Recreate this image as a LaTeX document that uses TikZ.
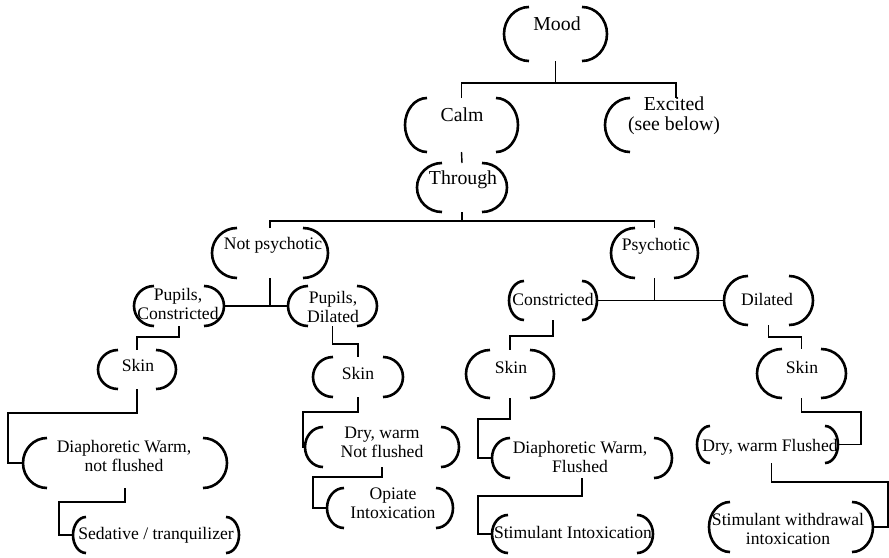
\documentclass[tikz,border=0pt]{standalone}
\usepackage{fontspec}
\setmainfont{Liberation Serif}
\usetikzlibrary{calc}
\tikzset{
  bx/.style 2 args={shape=rectangle, draw=none, inner sep=0pt, outer sep=0pt,
    minimum width=#1pt, minimum height=#2pt},
  bk/.style={line width=2.6pt, line cap=butt},
  cn/.style={line width=1.4pt},
  tx/.style={font=\fontsize{17.6}{19}\selectfont, align=center, inner sep=0pt},
  txb/.style={font=\fontsize{19.8}{19.5}\selectfont, align=center, inner sep=0pt},
}
\newcommand\brk[2]{\draw[bk] let \p1=(#1.north west), \p2=(#1.south east), \n1={(\y1-\y2)/2} in
  (\x1+#2pt,\y1) arc[start angle=90,end angle=270,x radius=#2pt,y radius=\n1]
  (\x2-#2pt,\y1) arc[start angle=90,end angle=-90,x radius=#2pt,y radius=\n1];}
\newcommand\brkL[2]{\draw[bk] let \p1=(#1.north west), \p2=(#1.south east), \n1={(\y1-\y2)/2} in
  (\x1+#2pt,\y1) arc[start angle=90,end angle=270,x radius=#2pt,y radius=\n1];}
\begin{document}
\begin{tikzpicture}[x=1pt,y=1pt]
\useasboundingbox (0,0) rectangle (889,-557);
% nodes
\node[bx={103}{54}, label={[txb, shift={(1.5,10)}]center:{Mood}}] (mood) at (555.5,-34) {};
\node[bx={113}{54}, label={[txb, shift={(0.5,10)}]center:{Calm}}] (calm) at (461.5,-125) {};
\node[bx={142}{54}, label={[txb, shift={(-2,9.5)}]center:{Excited\\(see below)}}] (excited) at (676,-125) {};
\node[bx={90}{49}, label={[txb, shift={(1,7.5)}]center:{Through}}] (through) at (462,-187.5) {};
\node[bx={116}{50}, label={[tx, shift={(3,8)}]center:{Not psychotic}}] (np) at (270,-253) {};
\node[bx={87}{50}, label={[tx, shift={(1.5,7)}]center:{Psychotic}}] (psy) at (654.5,-253) {};
\node[bx={90}{40}, label={[tx, shift={(-1,2)}]center:{Pupils,\\Constricted}}] (pc) at (179,-306) {};
\node[bx={89}{40}, label={[tx, shift={(0.5,-0.5)}]center:{Pupils,\\Dilated}}] (pd) at (332.5,-306) {};
\node[bx={88}{39}, label={[tx, shift={(0,1.5)}]center:{Constricted}}] (con) at (553,-300.5) {};
\node[bx={89}{49}, label={[tx, shift={(-1.5,1.5)}]center:{Dilated}}] (dil) at (768.5,-300.5) {};
\node[bx={78}{39}, label={[tx, shift={(1,4.5)}]center:{Skin}}] (skinL) at (137,-369.5) {};
\node[bx={90}{40}, label={[tx, shift={(0,4)}]center:{Skin}}] (skinM) at (358,-377) {};
\node[bx={88}{48}, label={[tx, shift={(1,7)}]center:{Skin}}] (skinC) at (510,-374) {};
\node[bx={89}{49}, label={[tx, shift={(0.5,6.5)}]center:{Skin}}] (skinR) at (801.5,-373.5) {};
\node[bx={204}{50}, label={[tx, shift={(-1,7.5)}]center:{Diaphoretic Warm,\\not flushed}}] (diaphL) at (125,-463) {};
\node[bx={166}{36}, label={[tx, shift={(0,0)}]center:{Sedative / tranquilizer}}] (sed) at (156,-535) {};
\node[bx={154}{40}, label={[tx, shift={(0,4.5)}]center:{Dry, warm\\Not flushed}}] (dwn) at (382,-447) {};
\node[bx={126}{40}, label={[tx, shift={(3,5)}]center:{Opiate\\Intoxication}}] (opi) at (390,-508) {};
\node[bx={180}{40}, label={[tx, shift={(-2,1.5)}]center:{Diaphoretic Warm,\\Flushed}}] (dwf) at (582,-458) {};
\node[bx={161}{38}, label={[tx, shift={(0.5,2)}]center:{Stimulant Intoxication}}] (si) at (572.5,-534) {};
\node[bx={141}{37}, label={[tx, shift={(2.5,-2.5)}]center:{Dry, warm Flushed}}] (dwfl) at (767.5,-444.5) {};
\node[bx={164}{50}, label={[tx, shift={(-3,-1.5)}]center:{Stimulant withdrawal\\intoxication}}] (swi) at (791,-527) {};
% brackets
\brk{mood}{25}
\brk{calm}{22}
\brkL{excited}{25}
\brk{through}{25}
\brk{np}{25}
\brk{psy}{24}
\brk{pc}{20}
\brk{pd}{20}
\brk{con}{15}
\brk{dil}{24}
\brk{skinL}{20}
\brk{skinM}{20}
\brk{skinC}{24}
\brk{skinR}{25}
\brk{diaphL}{24}
\brk{sed}{13}
\brk{dwn}{18}
\brk{opi}{17}
\brk{dwf}{18}
\brk{si}{16}
\brk{dwfl}{13}
\brk{swi}{21}
% connectors
\draw[cn] (mood.south) -- ++(0,-22) coordinate (mj);
\draw[cn] (calm.north) |- (mj) -| (excited.north);
\draw[cn] (calm.south) -- (through.north);
\draw[cn] (through.south) -- ++(0,-9) coordinate (tj);
\draw[cn] (np.north) |- (tj) -| (psy.north);
\draw[cn] (np.south) -- (np.south |- pc.east);
\draw[cn] (pc.east) -- (pd.west);
\draw[cn] (psy.south) -- (psy.south |- con.east);
\draw[cn] (con.east) -- (dil.west);
\draw[cn] (pc.south) -- ++(0,-11) -| (skinL.north);
\draw[cn] (pd.south) -- ++(0,-18) -| (skinM.north);
\draw[cn] (con.south) -- ++(0,-16) -| (skinC.north);
\draw[cn] (dil.south) -- ++(0,-12) -| (skinR.north);
\draw[cn] (skinL.south) -- ++(0,-24) -| ($(diaphL.west)+(-15,0)$) -- (diaphL.west);
\draw[cn] (diaphL.south) -- ++(0,-14) -| ($(sed.west)+(-14,0)$) -- (sed.west);
\draw[cn] (skinM.south) -- ++(0,-15) -| ($(dwn.west)+(-2,0)$) -- (dwn.west);
\draw[cn] (dwn.south) -- ++(0,-10) -| ($(opi.west)+(-14,0)$) -- (opi.west);
\draw[cn] (skinC.south) -- ++(0,-21) -| ($(dwf.west)+(-14,0)$) -- (dwf.west);
\draw[cn] (dwf.south) -- ++(0,-18) -| ($(si.west)+(-14,0)$) -- (si.west);
\draw[cn] (skinR.south) -- ++(0,-14) -| ($(dwfl.east)+(23,0)$) -- (dwfl.east);
\draw[cn] ($(dwfl.south)+(4,0)$) -- ++(0,-19) -| ($(swi.east)+(15,0)$) -- (swi.east);
\end{tikzpicture}
\end{document}
